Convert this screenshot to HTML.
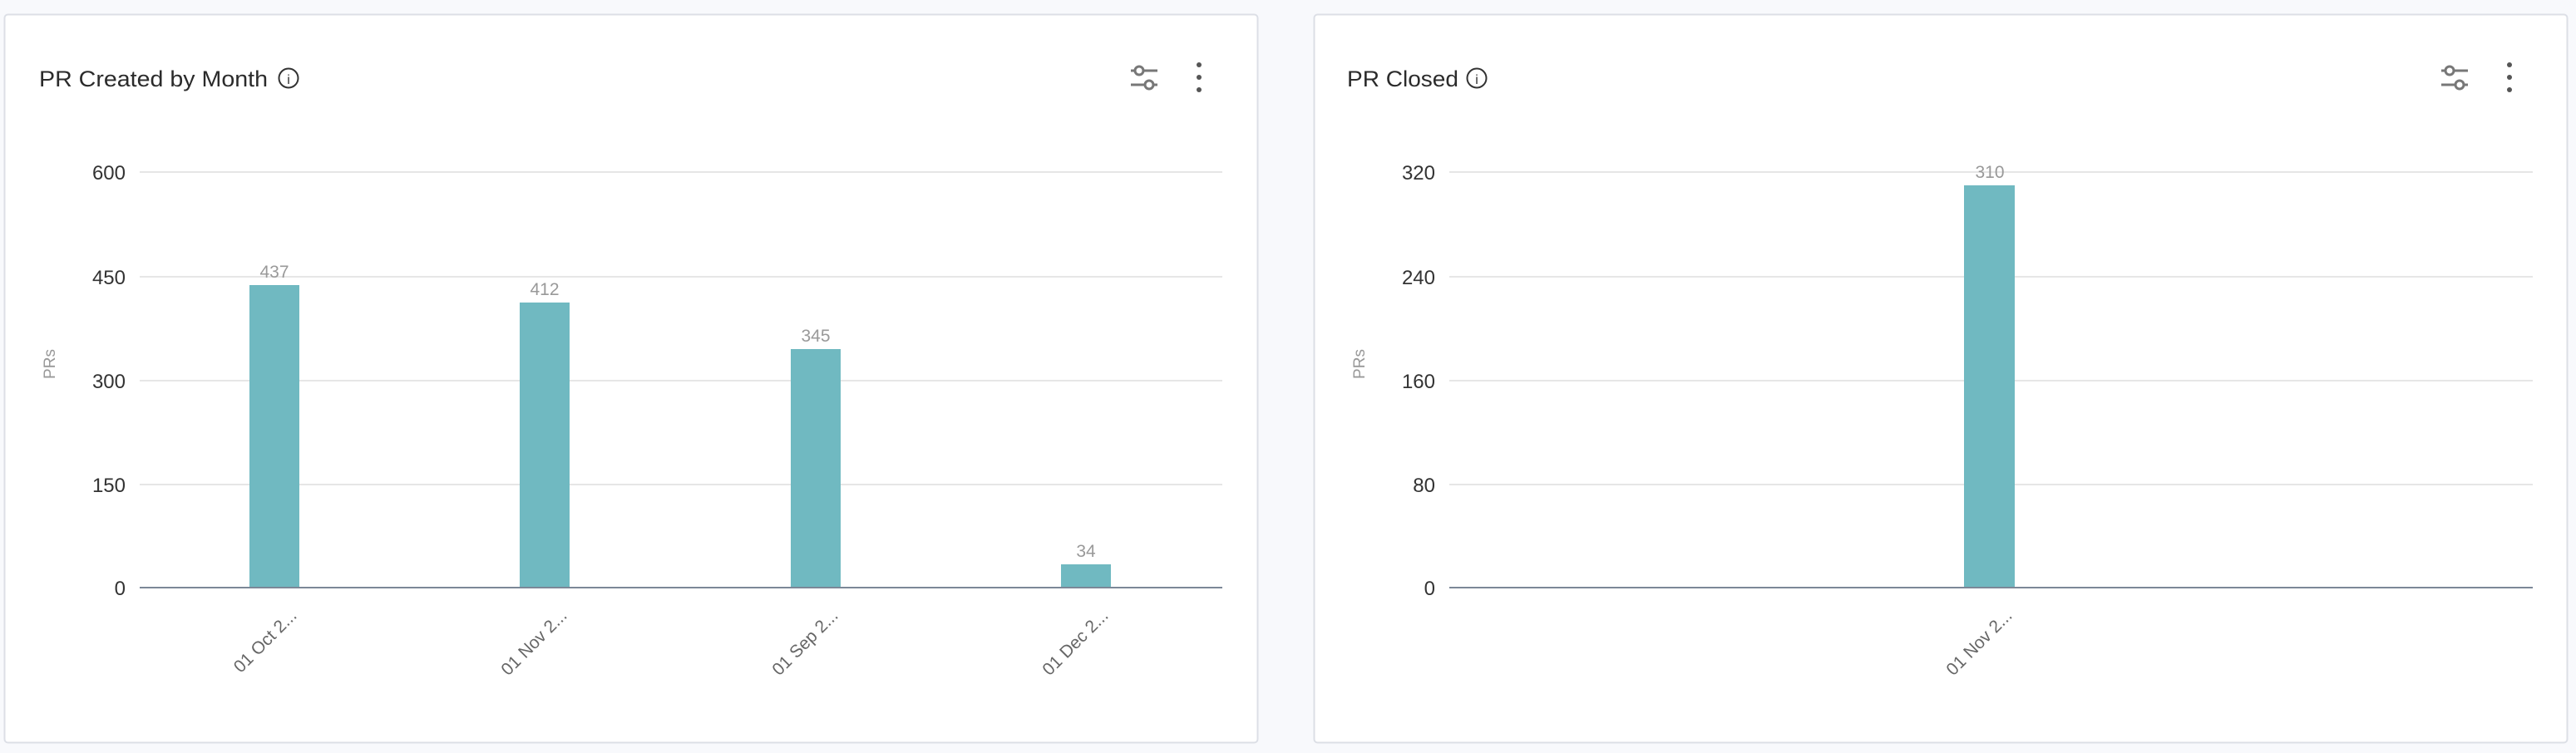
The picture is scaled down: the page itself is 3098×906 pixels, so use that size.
<!DOCTYPE html>
<html><head><meta charset="utf-8"><style>
html,body{margin:0;padding:0;background:#f8f9fc;}
svg{display:block;font-family:"Liberation Sans",sans-serif;}
</style></head><body>
<svg width="3098" height="906" viewBox="0 0 3098 906" xmlns="http://www.w3.org/2000/svg">
<rect x="0" y="0" width="3098" height="906" fill="#f8f9fc"/>
<!-- Left card -->
<rect x="5.5" y="17.5" width="1507" height="876" rx="4" fill="#fff" stroke="#dcdfe6" stroke-width="2"/>
<text x="47" y="104" font-size="27" font-weight="500" fill="#2b2b2b" textLength="275" lengthAdjust="spacingAndGlyphs">PR Created by Month</text>
<circle cx="347" cy="94" r="11.5" fill="none" stroke="#333" stroke-width="2"/>
<text x="347" y="101" font-size="16" fill="#333" text-anchor="middle">i</text>
<g stroke="#777" stroke-width="3" fill="#fff">
<line x1="1360" y1="85" x2="1392" y2="85"/><line x1="1360" y1="102" x2="1392" y2="102"/>
<circle cx="1370" cy="85" r="5"/><circle cx="1382" cy="102" r="5"/>
</g>
<g fill="#555"><circle cx="1442" cy="78" r="3"/><circle cx="1442" cy="93" r="3"/><circle cx="1442" cy="108" r="3"/></g>
<g stroke="#e6e6e6" stroke-width="2">
<line x1="168" y1="207" x2="1470" y2="207"/><line x1="168" y1="333" x2="1470" y2="333"/>
<line x1="168" y1="458" x2="1470" y2="458"/><line x1="168" y1="583" x2="1470" y2="583"/>
</g>
<g font-size="24" fill="#333" text-anchor="end">
<text x="151" y="216">600</text><text x="151" y="342">450</text><text x="151" y="467">300</text><text x="151" y="592">150</text><text x="151" y="716">0</text>
</g>
<text transform="translate(66,438) rotate(-90)" font-size="19" fill="#999" text-anchor="middle">PRs</text>
<g fill="#70b9c1">
<rect x="300" y="343" width="60" height="364"/>
<rect x="625" y="364" width="60" height="343"/>
<rect x="951" y="420" width="60" height="287"/>
<rect x="1276" y="679" width="60" height="28"/>
</g>
<line x1="168" y1="707" x2="1470" y2="707" stroke="#7c8797" stroke-width="2"/>
<g font-size="21" fill="#999" text-anchor="middle">
<text x="330" y="334">437</text><text x="655" y="355">412</text><text x="981" y="411">345</text><text x="1306" y="670">34</text>
</g>
<g font-size="21" fill="#666" text-anchor="end">
<text transform="translate(358,742) rotate(-45)">01 Oct 2...</text>
<text transform="translate(683,742) rotate(-45)">01 Nov 2...</text>
<text transform="translate(1009,742) rotate(-45)">01 Sep 2...</text>
<text transform="translate(1334,742) rotate(-45)">01 Dec 2...</text>
</g>
<!-- Right card -->
<rect x="1580.5" y="17.5" width="1507" height="876" rx="4" fill="#fff" stroke="#dcdfe6" stroke-width="2"/>
<text x="1620" y="104" font-size="27" font-weight="500" fill="#2b2b2b" textLength="134" lengthAdjust="spacingAndGlyphs">PR Closed</text>
<circle cx="1776" cy="94" r="11.5" fill="none" stroke="#333" stroke-width="2"/>
<text x="1776" y="101" font-size="16" fill="#333" text-anchor="middle">i</text>
<g stroke="#777" stroke-width="3" fill="#fff">
<line x1="2936" y1="85" x2="2968" y2="85"/><line x1="2936" y1="102" x2="2968" y2="102"/>
<circle cx="2946" cy="85" r="5"/><circle cx="2958" cy="102" r="5"/>
</g>
<g fill="#555"><circle cx="3018" cy="78" r="3"/><circle cx="3018" cy="93" r="3"/><circle cx="3018" cy="108" r="3"/></g>
<g stroke="#e6e6e6" stroke-width="2">
<line x1="1743" y1="207" x2="3046" y2="207"/><line x1="1743" y1="333" x2="3046" y2="333"/>
<line x1="1743" y1="458" x2="3046" y2="458"/><line x1="1743" y1="583" x2="3046" y2="583"/>
</g>
<g font-size="24" fill="#333" text-anchor="end">
<text x="1726" y="216">320</text><text x="1726" y="342">240</text><text x="1726" y="467">160</text><text x="1726" y="592">80</text><text x="1726" y="716">0</text>
</g>
<text transform="translate(1641,438) rotate(-90)" font-size="19" fill="#999" text-anchor="middle">PRs</text>
<rect x="2362" y="223" width="61" height="484" fill="#70b9c1"/>
<line x1="1743" y1="707" x2="3046" y2="707" stroke="#7c8797" stroke-width="2"/>
<text x="2393" y="214" font-size="21" fill="#999" text-anchor="middle">310</text>
<text transform="translate(2421,742) rotate(-45)" font-size="21" fill="#666" text-anchor="end">01 Nov 2...</text>
</svg>
</body></html>
